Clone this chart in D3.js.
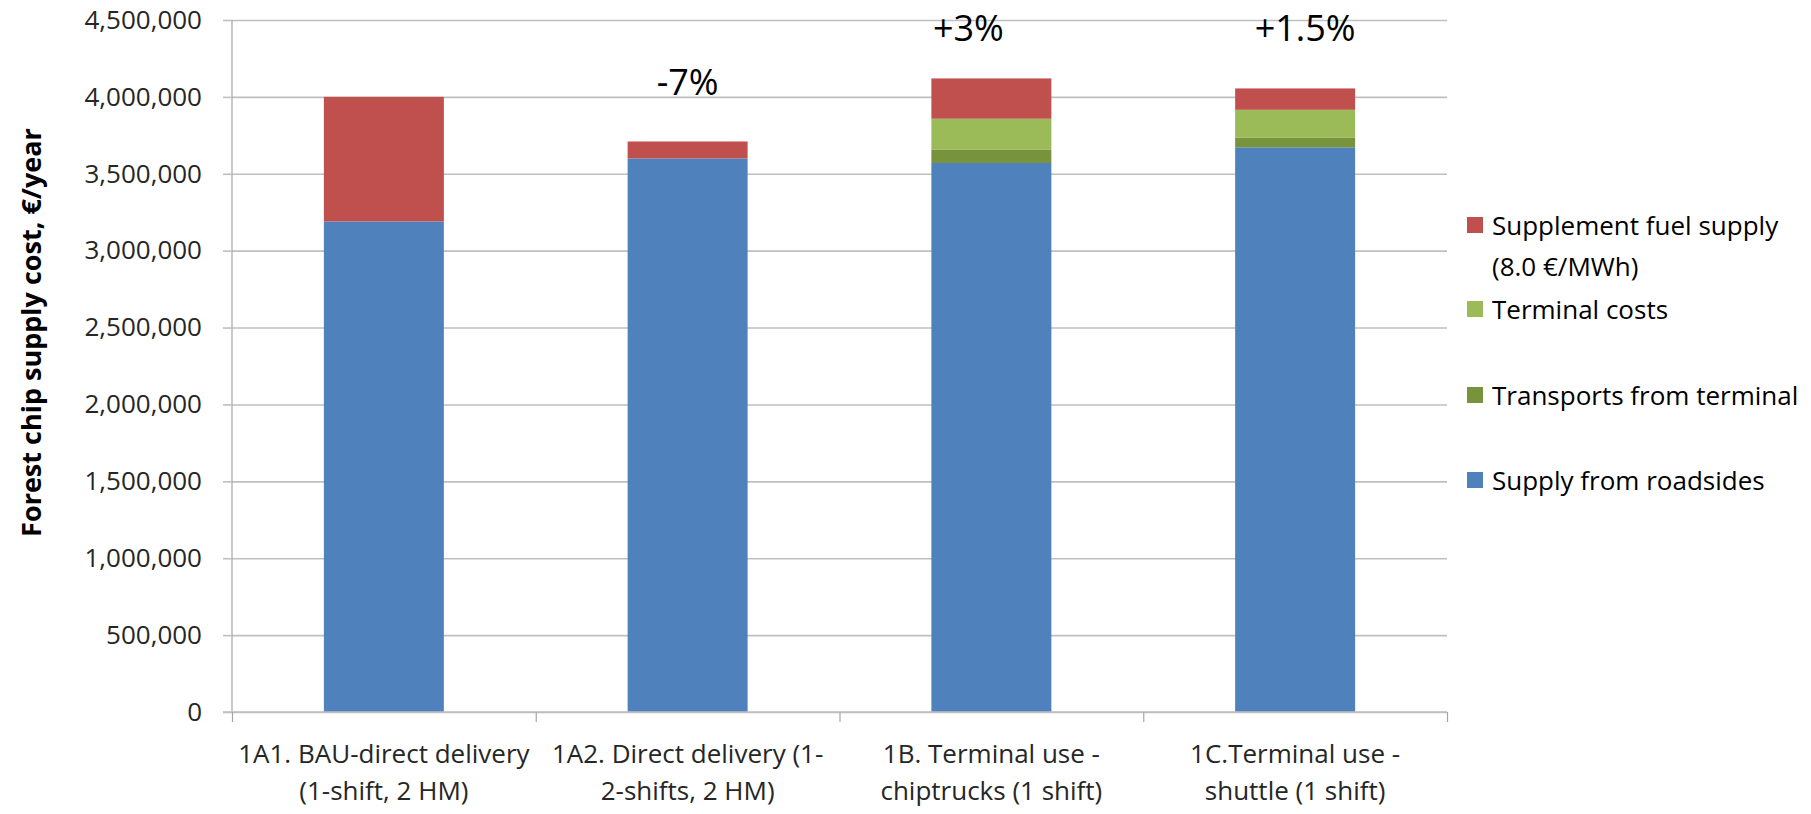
<!DOCTYPE html>
<html>
<head>
<meta charset="utf-8">
<script src="https://cdn.jsdelivr.net/npm/d3@7"></script>
<style>
  html, body { margin: 0; padding: 0; background: #fff; }
  svg { display: block; font-family: "Open Sans", "Noto Sans", sans-serif; }
</style>
</head>
<body>
<svg id="chart" width="1811" height="814"></svg>
<script>
// ---- data ----
const categories = [
  "1A1. BAU-direct delivery (1-shift, 2 HM)",
  "1A2. Direct delivery (1-2-shifts, 2 HM)",
  "1B. Terminal use - chiptrucks (1 shift)",
  "1C.Terminal use - shuttle (1 shift)"
];
const categoryLines = [
  ["1A1. BAU-direct delivery", "(1-shift, 2 HM)"],
  ["1A2. Direct delivery (1-", "2-shifts, 2 HM)"],
  ["1B. Terminal use -", "chiptrucks (1 shift)"],
  ["1C.Terminal use -", "shuttle (1 shift)"]
];
const seriesNames = [
  "Supply from roadsides",
  "Transports from terminal",
  "Terminal costs",
  "Supplement fuel supply (8.0 €/MWh)"
];
const supplyFromRoadsides    = [3190000, 3600000, 3570000, 3672000];
const transportsFromTerminal = [0, 0, 88000, 64000];
const terminalCosts          = [0, 0, 200000, 180000];
const supplementFuelSupply   = [810000, 110000, 262000, 139000];
const changeLabels = ["", "-7%", "+3%", "+1.5%"];
const yTicks = [0, 500000, 1000000, 1500000, 2000000, 2500000, 3000000, 3500000, 4000000, 4500000];
const yTitle = "Forest chip supply cost, €/year";

(function () {
// ---- styles / layout ----
const colors = ["#4F81BD", "#77933C", "#9BBB59", "#C0504D"];
const legendLines = [
  ["Supplement fuel supply", "(8.0 €/MWh)"],
  ["Terminal costs"],
  ["Transports from terminal"],
  ["Supply from roadsides"]
];
const legendOrder = [3, 2, 1, 0];
const legendBaselines = [235, 319, 405, 490];
const annoLayout = [null, {dx: 0, y: 95}, {dx: -23, y: 41}, {dx: 10, y: 41}];

const pLeft = 232, pRight = 1447, pTop = 20, pBottom = 712;
const svg = d3.select("#chart");
svg.append("rect").attr("width", 1811).attr("height", 814).attr("fill", "#fff");

const x = d3.scaleBand().domain(categories).range([pLeft, pRight])
  .paddingInner(0.605).paddingOuter(0.3025);
const y = d3.scaleLinear().domain([0, 4500000]).range([pBottom, pTop]);

// gridlines
const grid = svg.append("g").attr("transform", `translate(${pLeft},0)`)
  .call(d3.axisLeft(y).tickValues(yTicks).tickSize(-(pRight - pLeft)).tickFormat(""));
grid.select(".domain").remove();
grid.selectAll("line").attr("stroke", "#BFBFBF").attr("stroke-width", 1.6);

// y axis
const yAxis = svg.append("g").attr("transform", `translate(${pLeft},0)`)
  .call(d3.axisLeft(y).tickValues(yTicks).tickSize(9).tickPadding(21).tickFormat(d3.format(",")));
yAxis.select(".domain").attr("stroke", "#A6A6A6").attr("stroke-width", 1.2)
  .attr("d", `M0,${pTop}V${pBottom}`);
yAxis.selectAll(".tick line").attr("stroke", "#BFBFBF").attr("stroke-width", 1.6);
yAxis.selectAll(".tick text").attr("font-size", 26).attr("fill", "#262626")
  .attr("font-family", "'Open Sans', sans-serif");

// stacked bars
const table = categories.map((c, i) => ({
  cat: c,
  s0: supplyFromRoadsides[i],
  s1: transportsFromTerminal[i],
  s2: terminalCosts[i],
  s3: supplementFuelSupply[i]
}));
const stack = d3.stack().keys(["s0", "s1", "s2", "s3"])(table);
svg.append("g").selectAll("g").data(stack).join("g")
  .attr("fill", (d, i) => colors[i])
  .selectAll("rect").data(d => d).join("rect")
  .attr("x", d => x(d.data.cat))
  .attr("width", x.bandwidth())
  .attr("y", d => y(d[1]))
  .attr("height", d => Math.max(0, y(d[0]) - y(d[1])));

// x axis (boundary ticks)
const xb = d3.scaleLinear().domain([0, categories.length]).range([pLeft, pRight]);
const xAxis = svg.append("g").attr("transform", `translate(0,${pBottom})`)
  .call(d3.axisBottom(xb).ticks(categories.length).tickSize(10).tickFormat(""));
xAxis.select(".domain").attr("stroke", "#BFBFBF").attr("stroke-width", 1.6)
  .attr("d", `M${pLeft - 9},0H${pRight}`);
xAxis.selectAll(".tick line").attr("stroke", "#A6A6A6").attr("stroke-width", 1.2);

// category labels
const labels = svg.append("g");
categories.forEach((c, i) => {
  const cx = x(c) + x.bandwidth() / 2;
  const t = labels.append("text").attr("text-anchor", "middle")
    .attr("font-size", 26).attr("fill", "#262626");
  categoryLines[i].forEach((ln, j) => {
    t.append("tspan").attr("x", cx).attr("y", 763 + j * 37).text(ln);
  });
});

// change annotations
changeLabels.forEach((lab, i) => {
  if (!lab) return;
  const cx = x(categories[i]) + x.bandwidth() / 2 + annoLayout[i].dx;
  svg.append("text").attr("x", cx).attr("y", annoLayout[i].y)
    .attr("text-anchor", "middle").attr("font-size", 36).attr("fill", "#000")
    .text(lab);
});

// y title
svg.append("text")
  .attr("transform", `translate(41,${(125 + 540) / 2}) rotate(-90)`)
  .attr("text-anchor", "middle").attr("font-size", 27).attr("font-weight", 700)
  .attr("fill", "#000").text(yTitle);

// legend
const lg = svg.append("g");
legendOrder.forEach((si, k) => {
  const by = legendBaselines[k];
  lg.append("rect").attr("x", 1467).attr("y", by - 18).attr("width", 16).attr("height", 16)
    .attr("fill", colors[si]);
  const t = lg.append("text").attr("font-size", 26).attr("fill", "#000");
  legendLines[k].forEach((ln, j) => {
    t.append("tspan").attr("x", 1492).attr("y", by + j * 41).text(ln);
  });
});
})();
</script>
</body>
</html>
